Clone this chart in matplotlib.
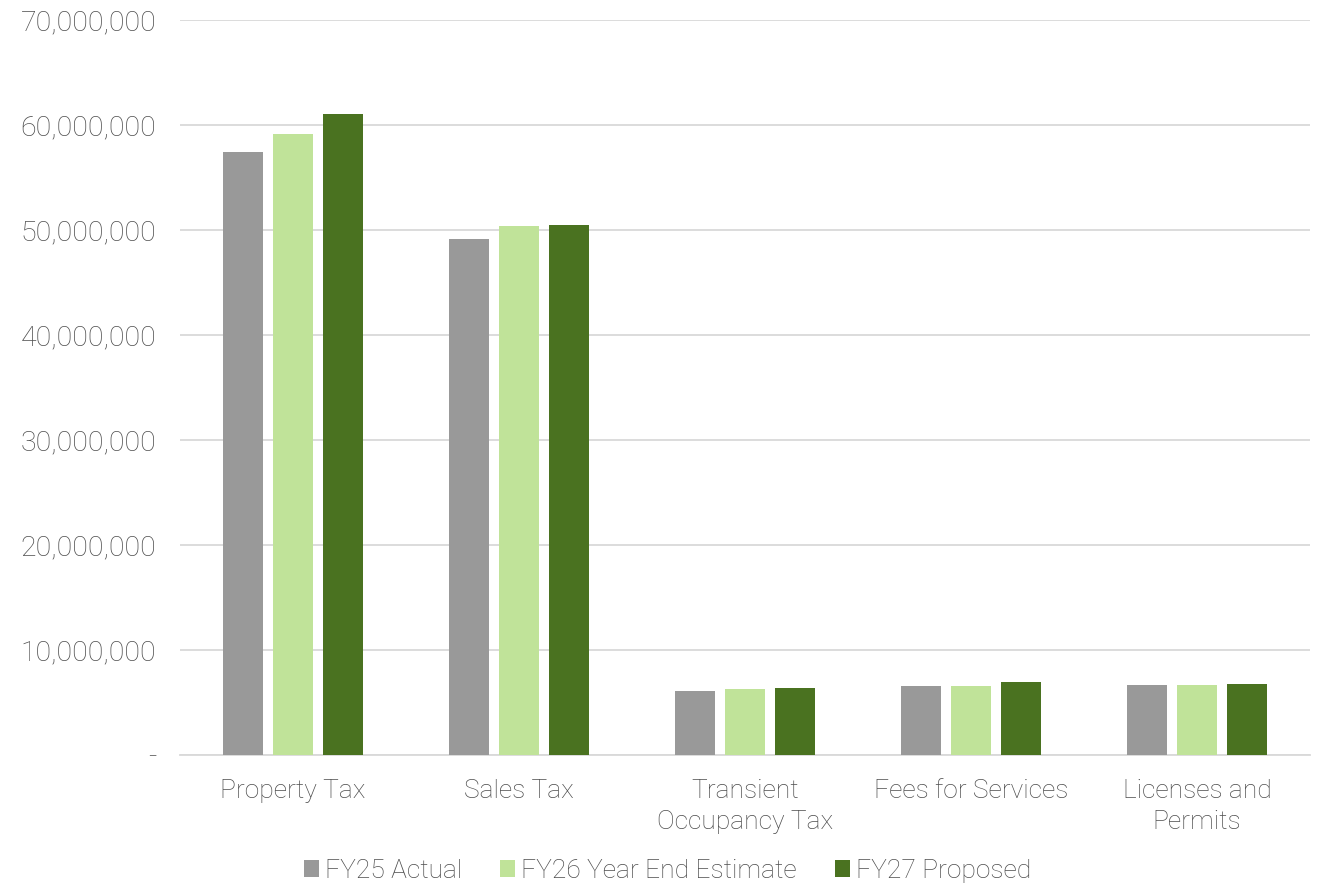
import matplotlib

matplotlib.use("Agg")
import matplotlib.pyplot as plt
import numpy as np
from matplotlib.ticker import FuncFormatter, MultipleLocator

plt.rcParams["font.family"] = ["Roboto", "DejaVu Sans"]
plt.rcParams["font.weight"] = "light"
plt.rcParams["font.size"] = 19

categories = [
    "Property Tax",
    "Sales Tax",
    "Transient\nOccupancy Tax",
    "Fees for Services",
    "Licenses and\nPermits",
]
series_names = ["FY25 Actual", "FY26 Year End Estimate", "FY27 Proposed"]
fy25_actual = [57_500_000, 49_200_000, 6_100_000, 6_600_000, 6_650_000]
fy26_estimate = [59_200_000, 50_400_000, 6_300_000, 6_600_000, 6_700_000]
fy27_proposed = [61_100_000, 50_500_000, 6_350_000, 6_900_000, 6_800_000]

colors = ["#999999", "#C0E399", "#4A7220"]
text_color = "#4D4D4D"
grid_color = "#D9D9D9"


def money(v, pos):
    if v == 0:
        return "-"
    return f"{v:,.0f}"


fig = plt.figure(figsize=(13.17, 8.85), dpi=100)
ax = fig.add_axes([0.1367, 0.147, 0.858, 0.830])

x = np.arange(len(categories))
width = 0.177
step = 0.221
for i, (vals, name) in enumerate(zip([fy25_actual, fy26_estimate, fy27_proposed], series_names)):
    ax.bar(x + (i - 1) * step, vals, width, color=colors[i], label=name, zorder=3)

ax.set_xlim(-0.5, len(categories) - 0.5)
ax.set_ylim(0, 70_000_000)
ax.yaxis.set_major_locator(MultipleLocator(10_000_000))
ax.yaxis.set_major_formatter(FuncFormatter(money))
ax.grid(axis="y", color=grid_color, linewidth=1.3, zorder=0)

ax.set_xticks(x)
ax.set_xticklabels(categories, linespacing=1.38)
ax.tick_params(axis="both", length=0, colors=text_color)
ax.tick_params(axis="x", pad=17)
ax.tick_params(axis="y", pad=17, labelsize=20.5)

for side in ["top", "right", "left"]:
    ax.spines[side].set_visible(False)
ax.spines["bottom"].set_color(grid_color)
ax.spines["bottom"].set_linewidth(1.3)

fig.legend(
    loc="center",
    bbox_to_anchor=(0.507, 0.016),
    ncol=3,
    frameon=False,
    handlelength=0.57,
    handleheight=0.57,
    handletextpad=0.23,
    columnspacing=1.45,
    borderpad=0,
    labelcolor=text_color,
)

fig.savefig("out.png", dpi=100)
